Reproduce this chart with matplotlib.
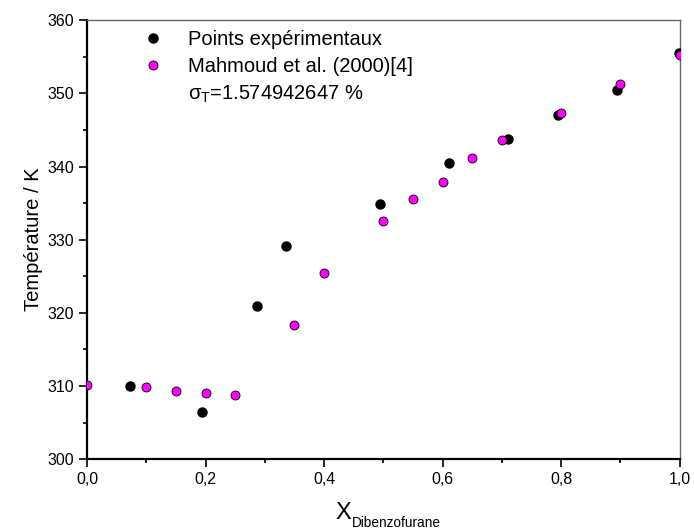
import matplotlib.pyplot as plt
from matplotlib.lines import Line2D
from matplotlib.ticker import MultipleLocator, FuncFormatter

plt.rcParams['font.family'] = ['Liberation Sans', 'DejaVu Sans']
plt.rcParams['mathtext.fontset'] = 'custom'
plt.rcParams['mathtext.rm'] = 'Liberation Sans'
plt.rcParams['mathtext.it'] = 'Liberation Sans'

# experimental points
x_exp = [0.072, 0.194, 0.286, 0.335, 0.495, 0.610, 0.711, 0.794, 0.894, 0.999]
t_exp = [310.0, 306.5, 320.9, 329.2, 334.9, 340.5, 343.7, 347.0, 350.4, 355.5]

# Mahmoud et al. (2000)
x_lit = [0.0, 0.1, 0.15, 0.2, 0.25, 0.35, 0.4, 0.5, 0.55, 0.6, 0.65, 0.7, 0.8, 0.9, 1.0]
t_lit = [310.1, 309.8, 309.3, 309.1, 308.7, 318.3, 325.4, 332.6, 335.6, 337.9, 341.2, 343.6, 347.3, 351.3, 355.3]

fig = plt.figure(figsize=(6.94, 5.32), dpi=100)
ax = fig.add_axes([0.1254, 0.137, 0.854, 0.825])

ax.scatter(x_exp, t_exp, s=42, color='black', zorder=3)
ax.scatter(x_lit, t_lit, s=42, color='#ff00ff', edgecolor='black', linewidth=0.6, zorder=4)

ax.set_xlim(0, 1.0)
ax.set_ylim(300, 360)
ax.xaxis.set_major_locator(MultipleLocator(0.2))
ax.xaxis.set_minor_locator(MultipleLocator(0.1))
ax.yaxis.set_major_locator(MultipleLocator(10))
ax.yaxis.set_minor_locator(MultipleLocator(5))
ax.xaxis.set_major_formatter(FuncFormatter(lambda v, p: f'{v:.1f}'.replace('.', ',')))
ax.tick_params(which='major', direction='out', length=6, width=1.2, labelsize=11.5)
ax.tick_params(which='minor', direction='out', length=3, width=1.2)
for s in ['left', 'bottom']:
    ax.spines[s].set_linewidth(1.6)
for s in ['top', 'right']:
    ax.spines[s].set_linewidth(1.0)
    ax.spines[s].set_color('#666666')

# x label: large X with small subscript
fig.text(0.483, 0.025, 'X', fontsize=17, ha='left', va='baseline')
fig.text(0.507, 0.010, 'Dibenzofurane', fontsize=9.8, ha='left', va='baseline')
ax.set_ylabel('Température / K', fontsize=14.5, labelpad=3)

handles = [
    Line2D([], [], linestyle='none', marker='o', markersize=6.5, color='black'),
    Line2D([], [], linestyle='none', marker='o', markersize=6.5, markerfacecolor='#ff00ff',
           markeredgecolor='black', markeredgewidth=0.6),
    Line2D([], [], linestyle='none'),
]
labels = ['Points expérimentaux', 'Mahmoud et al. (2000)[4]', r'$\sigma_{\mathrm{T}}$=1.574942647 %']
ax.legend(handles, labels, loc='upper left', bbox_to_anchor=(0.068, 1.0), frameon=False,
          fontsize=14.5, handletextpad=1.0, handlelength=1.5, labelspacing=0.38, borderaxespad=0.1)

fig.savefig('out.png', dpi=100)
